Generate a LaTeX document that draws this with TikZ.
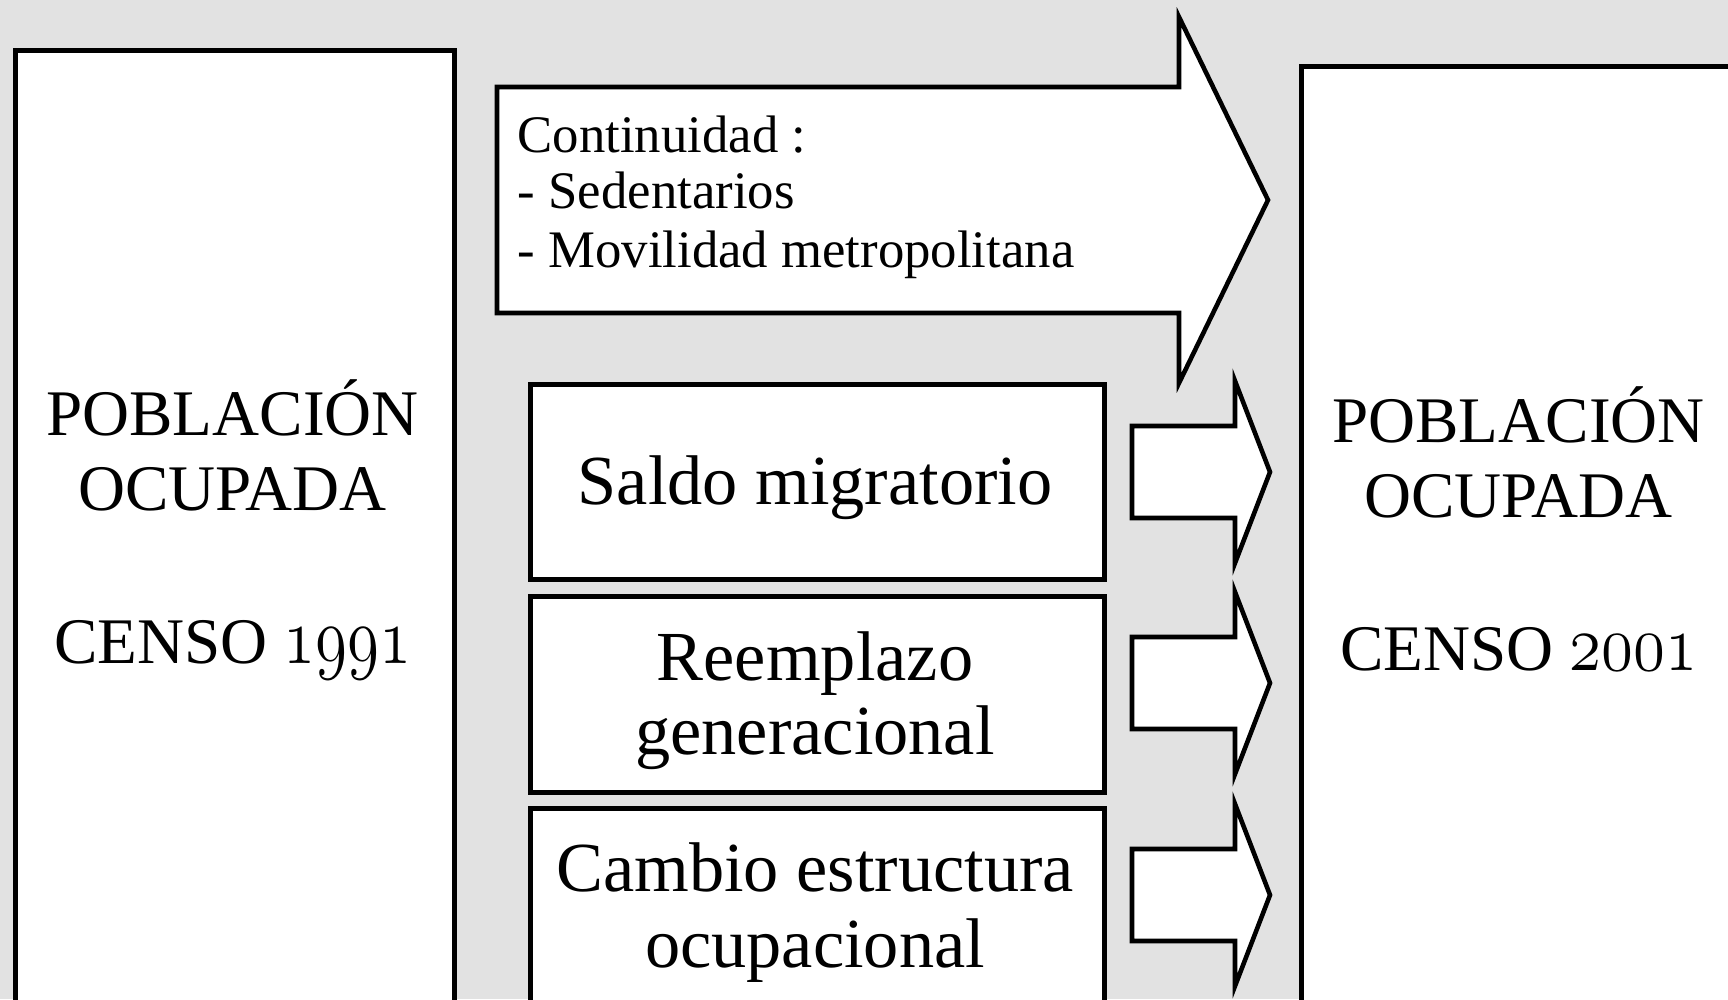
\RequirePackage{fix-cm}
\documentclass[tikz,border=0pt]{standalone}
\usepackage{fontspec}
\usepackage{graphicx}
\setmainfont{Liberation Serif}
\usetikzlibrary{calc}
\definecolor{bgcol}{RGB}{226,226,226}
\tikzset{
  frame/.style={draw=black, fill=white, line width=1.3pt, line join=miter, inner sep=0pt},
  bigtxt/.style={anchor=base, inner sep=0pt, font=\fontsize{18.5}{21}\selectfont},
  midtxt/.style={anchor=base, inner sep=0pt, font=\fontsize{20}{23}\selectfont},
  smalltxt/.style={anchor=base west, inner sep=0pt, font=\fontsize{15}{16}\selectfont},
}
\newcommand{\osnum}[1]{\scalebox{1}[1.25]{$\mathnormal{#1}$}}
\begin{document}
\begin{tikzpicture}[x=0.01cm,y=-0.01cm]
\useasboundingbox (0,0) rectangle (1728,999);
\clip (0,0) rectangle (1728,999);
\fill[bgcol] (0,0) rectangle (1728,999);

% big side boxes
\node[frame, anchor=north west, minimum width=4.39cm, minimum height=9.82cm] (left) at (13,48) {};
\node[frame, anchor=north west, minimum width=4.39cm, minimum height=9.66cm] (right) at (1299,64) {};

\node[bigtxt] (l1) at (232.5,435) {POBLACIÓN};
\node[bigtxt] (l2) at (232.5,510) {OCUPADA};
\node[bigtxt] (l3) at (232.5,663) {CENSO \osnum{1991}};

\node[bigtxt] (r1) at (1518.5,442) {POBLACIÓN};
\node[bigtxt] (r2) at (1518.5,517) {OCUPADA};
\node[bigtxt] (r3) at (1518.5,670) {CENSO \osnum{2001}};

% big continuity arrow
\draw[frame] (497,87) -- (1179,87) -- (1179,17) -- (1268,200) -- (1179,383) -- (1179,313) -- (497,313) -- cycle;
\node[smalltxt] (c1) at (517,152) {Continuidad :};
\node[smalltxt] (c2) at (517,208) {- Sedentarios};
\node[smalltxt] (c3) at (517,267) {- Movilidad metropolitana};

% middle boxes
\node[frame, anchor=north west, minimum width=5.74cm, minimum height=1.95cm] (saldo) at (528,382) {};
\node[frame, anchor=north west, minimum width=5.74cm, minimum height=1.96cm] (reemp) at (528,594) {};
\node[frame, anchor=north west, minimum width=5.74cm, minimum height=1.96cm] (cambio) at (528,806) {};

\node[midtxt] (s1) at (815,504) {Saldo migratorio};
\node[midtxt] (e1) at (815,680) {Reemplazo};
\node[midtxt] (e2) at (815,754) {generacional};
\node[midtxt] (m1) at (815,891) {Cambio estructura};
\node[midtxt] (m2) at (815,967) {ocupacional};

% small arrows
\foreach \c in {472,683,895}{
  \draw[frame] (1132,\c-46) -- (1235,\c-46) -- (1235,\c-91) -- (1270,\c) -- (1235,\c+91) -- (1235,\c+46) -- (1132,\c+46) -- cycle;
}
\end{tikzpicture}
\end{document}
